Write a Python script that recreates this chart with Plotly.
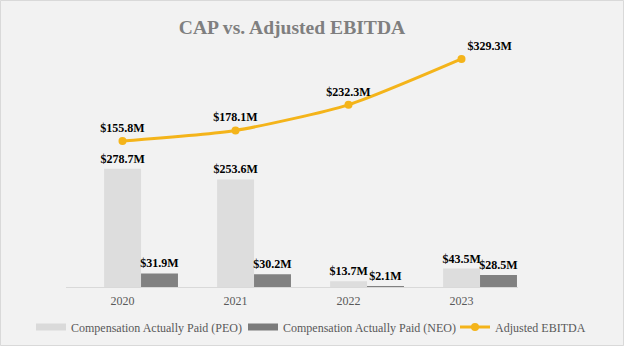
import plotly.graph_objects as go

years = ["2020", "2021", "2022", "2023"]
cap_peo = [278.7, 253.6, 13.7, 43.5]
cap_neo = [31.9, 30.2, 2.1, 28.5]
ebitda = [155.8, 178.1, 232.3, 329.3]
names = ["Compensation Actually Paid (PEO)", "Compensation Actually Paid (NEO)", "Adjusted EBITDA"]

W, H = 624, 346
ML, MR, MT, MB = 66, 106, 40, 59
PW, PH = W - ML - MR, H - MT - MB

serif = "Liberation Serif, Times New Roman, serif"
lbl_font = dict(family=serif, size=12, color="#000000")
tmpl = "<b>$%{y:.1f}M</b>"
PEO_C, NEO_C, LINE_C = "#dadada", "#7b7b7b", "#f4b41a"

fig = go.Figure()
fig.add_trace(go.Bar(
    x=years, y=cap_peo, name=names[0], showlegend=False,
    offset=-0.163, width=0.327,
    marker=dict(color=PEO_C, line=dict(width=0),
                pattern=dict(shape=".", fgcolor="#cdcdcd", bgcolor="#e0e0e0", size=2, solidity=0.5)),
    texttemplate=tmpl, textposition="outside", cliponaxis=False, constraintext="none",
    textfont=lbl_font,
))
fig.add_trace(go.Bar(
    x=years, y=cap_neo, name=names[1], showlegend=False,
    offset=0.164, width=0.327,
    marker=dict(color=NEO_C, line=dict(width=0),
                pattern=dict(shape=".", fgcolor="#6f6f6f", bgcolor="#858585", size=2, solidity=0.5)),
    texttemplate=tmpl, textposition="outside", cliponaxis=False, constraintext="none",
    textfont=lbl_font,
))
fig.add_trace(go.Scatter(
    x=years, y=ebitda, name=names[2], yaxis="y2", legend="legend3",
    mode="lines+markers+text",
    line=dict(color=LINE_C, width=3, shape="spline", smoothing=0.6),
    marker=dict(color=LINE_C, size=8),
    texttemplate=tmpl,
    textposition=["top center", "top center", "top center", "top right"],
    textfont=lbl_font,
    cliponaxis=False,
))
# legend swatches for the bar series (wide rectangles like the original)
fig.add_trace(go.Scatter(x=[None], y=[None], mode="lines", name=names[0], legend="legend",
                         line=dict(color=PEO_C, width=7)))
fig.add_trace(go.Scatter(x=[None], y=[None], mode="lines", name=names[1], legend="legend2",
                         line=dict(color=NEO_C, width=7)))

leg_common = dict(orientation="h", xref="container", yref="container",
                  xanchor="left", y=1 - 327 / H, yanchor="middle",
                  font=dict(family=serif, size=12, color="#595959"),
                  bgcolor="rgba(0,0,0,0)", itemwidth=30)

fig.update_layout(
    width=W, height=H,
    margin=dict(l=ML, r=MR, t=MT, b=MB, autoexpand=False),
    paper_bgcolor="#f2f2f2", plot_bgcolor="#f2f2f2",
    barmode="group",
    title=dict(text="<b>CAP vs. Adjusted EBITDA</b>", x=0.5, xref="paper", xanchor="center",
               y=1 - 27 / H, yref="container", yanchor="middle",
               font=dict(family=serif, size=19.6, color="#7f7f7f")),
    xaxis=dict(type="category", range=[-0.5, 3.5], showgrid=False, zeroline=False,
               showline=True, linecolor="#d9d9d9", linewidth=1, ticks="",
               ticklabelstandoff=3,
               tickfont=dict(family=serif, size=12, color="#595959")),
    yaxis=dict(range=[0, PH / 0.424], visible=False, showgrid=False, zeroline=False),
    yaxis2=dict(range=[-(287 - 214.6) / 0.4726, (214.6 - MT) / 0.4726], overlaying="y",
                visible=False, showgrid=False, zeroline=False),
    legend=dict(leg_common, x=(71 - 40) / W),
    legend2=dict(leg_common, x=(283 - 40) / W),
    legend3=dict(leg_common, x=(495 - 40) / W),
    showlegend=True,
)
fig.add_shape(type="rect", xref="paper", yref="paper",
              x0=-(ML - 0.5) / PW, x1=(W - ML - 0.5) / PW,
              y0=-(MB - 0.5) / PH, y1=(H - MB - 0.5) / PH,
              line=dict(color="#d9d9d9", width=1), layer="below")

fig.write_html("out.html")
